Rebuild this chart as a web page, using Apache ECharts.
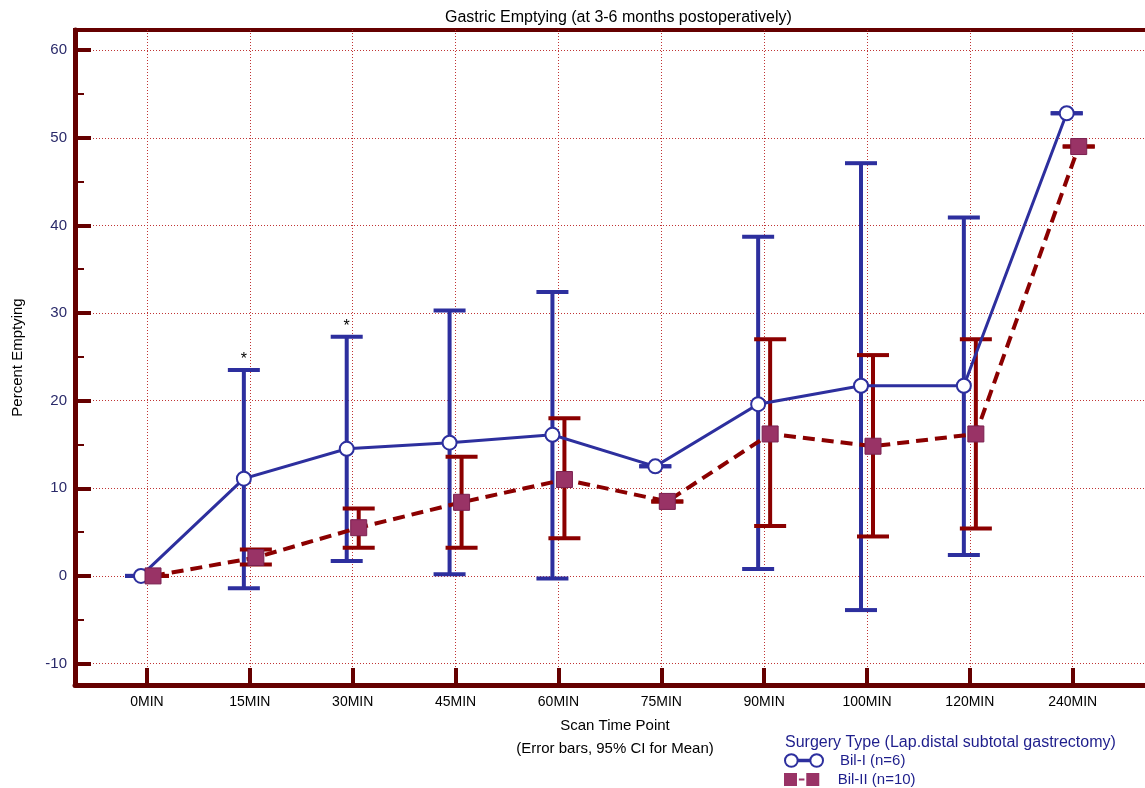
<!DOCTYPE html>
<html><head><meta charset="utf-8">
<script src="https://cdn.jsdelivr.net/npm/echarts@6/dist/echarts.min.js"></script>
<style>html,body{margin:0;padding:0;background:#fff}#c{width:1145px;height:788px}</style>
</head><body><div id="c"></div>
<script>
// ---- data ----
const categories = ['0MIN','15MIN','30MIN','45MIN','60MIN','75MIN','90MIN','100MIN','120MIN','240MIN'];
const yTicks = [-10, 0, 10, 20, 30, 40, 50, 60];
const yMinorTicks = [-5, 5, 15, 25, 35, 45, 55];
const bil1Mean  = [0, 11.1, 14.5, 15.2, 16.1, 12.5, 19.6, 21.7, 21.7, 52.8];
const bil1Lower = [0, -1.4,  1.7,  0.2, -0.3, 12.5,  0.8, -3.9,  2.4, 52.8];
const bil1Upper = [0, 23.5, 27.3, 30.3, 32.4, 12.5, 38.7, 47.1, 40.9, 52.8];
const bil2Mean  = [0, 2.1, 5.5,  8.4, 11.0, 8.5, 16.2, 14.8, 16.2, 49.0];
const bil2Lower = [0, 1.3, 3.2,  3.2,  4.3, 8.5,  5.7,  4.5,  5.4, 49.0];
const bil2Upper = [0, 3.0, 7.7, 13.6, 18.0, 8.5, 27.0, 25.2, 27.0, 49.0];
const significance = ['', '*', '*', '', '', '', '', '', '', ''];
const name1 = 'Bil-I (n=6)';
const name2 = 'Bil-II (n=10)';

// ---- styles ----
const BLUE = '#2d2f9e', RED = '#8b0000', PURPLE = '#993366', AXIS = '#650000', GRIDC = '#c03434';
const FONT = '"Liberation Sans", Arial, sans-serif';
const OFF = 6;

function pt(api, i, v, dx) { const p = api.coord([i, v]); return [p[0] + dx, p[1]]; }

function lineSeries(name, means, color, dx, dash, width) {
  return {
    type: 'custom', name, data: means.map((v, i) => [i, v]),
    renderItem(params, api) {
      if (params.dataIndex !== 0) return null;
      const pts = means.map((v, i) => pt(api, i, v, dx));
      return { type: 'polyline', shape: { points: pts },
        style: { stroke: color, lineWidth: width, fill: null, lineDash: dash } };
    }
  };
}

function errSeries(name, lower, upper, color, dx, marks) {
  return {
    type: 'custom', name, data: lower.map((l, i) => [i, l, upper[i]]),
    renderItem(params, api) {
      const i = api.value(0);
      const lo = pt(api, i, api.value(1), dx), hi = pt(api, i, api.value(2), dx);
      const hw = 16, st = { stroke: color, lineWidth: 4 };
      const ch = [
        { type: 'line', shape: { x1: lo[0], y1: lo[1], x2: hi[0], y2: hi[1] }, style: st },
        { type: 'line', shape: { x1: lo[0] - hw, y1: lo[1], x2: lo[0] + hw, y2: lo[1] }, style: st },
        { type: 'line', shape: { x1: hi[0] - hw, y1: hi[1], x2: hi[0] + hw, y2: hi[1] }, style: st }
      ];
      if (marks && marks[i]) ch.push({ type: 'text', style: { text: marks[i], x: hi[0], y: hi[1] - 2,
        align: 'center', verticalAlign: 'bottom', font: '16px ' + FONT, fill: '#000' } });
      return { type: 'group', children: ch };
    }
  };
}

function markerSeries(name, means, dx, kind) {
  return {
    type: 'custom', name, data: means.map((v, i) => [i, v]),
    renderItem(params, api) {
      const p = pt(api, api.value(0), api.value(1), dx);
      if (kind === 'circle') return { type: 'circle', shape: { cx: p[0], cy: p[1], r: 7 },
        style: { fill: '#fff', stroke: BLUE, lineWidth: 2 } };
      return { type: 'rect', shape: { x: p[0] - 8, y: p[1] - 8, width: 16, height: 16 },
        style: { fill: PURPLE, stroke: '#7a2050', lineWidth: 1 } };
    }
  };
}

const iconBil1 = 'path://M1,7 A6,6 0 1,0 13,7 A6,6 0 1,0 1,7 Z M13,6.2 L25,6.2 L25,7.8 L13,7.8 Z M25,7 A6,6 0 1,0 37,7 A6,6 0 1,0 25,7 Z';
const iconBil2 = 'path://M0,0 L14,0 L14,14 L0,14 Z M16,6 L22,6 L22,8 L16,8 Z M24,0 L38,0 L38,14 L24,14 Z';

const legendText = { fontSize: 15, color: '#1e1e8c', fontFamily: FONT, padding: [0, 0, 0, 12] };
const gridLine = { color: GRIDC, type: [1, 2], width: 1, opacity: 1 };
const option = {
  animation: false,
  backgroundColor: '#fff',
  textStyle: { fontFamily: FONT },
  title: [
    { text: 'Gastric Emptying (at 3-6 months postoperatively)', left: 440, top: 5,
      textStyle: { fontSize: 16, fontWeight: 'normal', color: '#000', fontFamily: FONT } },
    { text: 'Surgery Type (Lap.distal subtotal gastrectomy)', left: 780, top: 730,
      textStyle: { fontSize: 16, fontWeight: 'normal', color: '#1e1e8c', fontFamily: FONT } }
  ],
  legend: [
    { left: 784, top: 753, itemWidth: 38, itemHeight: 13, padding: 0, textStyle: legendText,
      data: [{ name: name1, icon: iconBil1, itemStyle: { color: '#fff', borderColor: BLUE, borderWidth: 2 } }] },
    { left: 784, top: 772, itemWidth: 38, itemHeight: 13, padding: 0, textStyle: legendText,
      data: [{ name: name2, icon: iconBil2, itemStyle: { color: PURPLE, borderWidth: 0 } }] }
  ],
  grid: { left: 75, top: 30, width: 1080, height: 655, show: true, borderColor: AXIS, borderWidth: 4,
    outerBoundsMode: 'none', containLabel: false },
  xAxis: {
    type: 'value', min: -0.7, max: 9.8,
    axisLine: { show: true, onZero: false, lineStyle: { color: AXIS, width: 5 } },
    axisTick: { show: true, inside: true, length: 17, lineStyle: { color: AXIS, width: 4 },
      customValues: categories.map((c, i) => i) },
    axisLabel: { customValues: categories.map((c, i) => i), formatter: v => categories[v] || '',
      color: '#000', fontSize: 14, margin: 10, fontFamily: FONT },
    splitLine: { show: true, lineStyle: gridLine },
    name: 'Scan Time Point\n(Error bars, 95% CI for Mean)', nameLocation: 'middle', nameGap: 27,
    nameTextStyle: { color: '#000', fontSize: 15, lineHeight: 23, fontFamily: FONT }
  },
  yAxis: [
    {
      type: 'value', min: -12.45, max: 62.3, position: 'left',
      axisLine: { show: true, onZero: false, lineStyle: { color: AXIS, width: 5 } },
      axisTick: { show: true, inside: true, length: 16, lineStyle: { color: AXIS, width: 4 }, customValues: yTicks },
      axisLabel: { customValues: yTicks, color: '#2a2a6a', fontSize: 15, margin: 8, fontFamily: FONT },
      splitLine: { show: true, lineStyle: gridLine },
      name: 'Percent Emptying', nameLocation: 'middle', nameGap: 50,
      nameTextStyle: { color: '#000', fontSize: 15, fontFamily: FONT }
    },
    {
      type: 'value', min: -12.45, max: 62.3, position: 'left',
      axisLine: { show: false, onZero: false },
      axisTick: { show: true, inside: true, length: 9, lineStyle: { color: AXIS, width: 2 }, customValues: yMinorTicks },
      axisLabel: { show: false }, splitLine: { show: false }, splitArea: { show: false }
    }
  ],
  series: [
    errSeries(name1, bil1Lower, bil1Upper, BLUE, -OFF, significance),
    errSeries(name2, bil2Lower, bil2Upper, RED, OFF, null),
    lineSeries(name1, bil1Mean, BLUE, -OFF, null, 3),
    lineSeries(name2, bil2Mean, RED, OFF, [12, 7], 4),
    markerSeries(name1, bil1Mean, -OFF, 'circle'),
    markerSeries(name2, bil2Mean, OFF, 'square')
  ]
};
const chart = echarts.init(document.getElementById('c'), null, { renderer: 'canvas' });
chart.setOption(option);
</script></body></html>
